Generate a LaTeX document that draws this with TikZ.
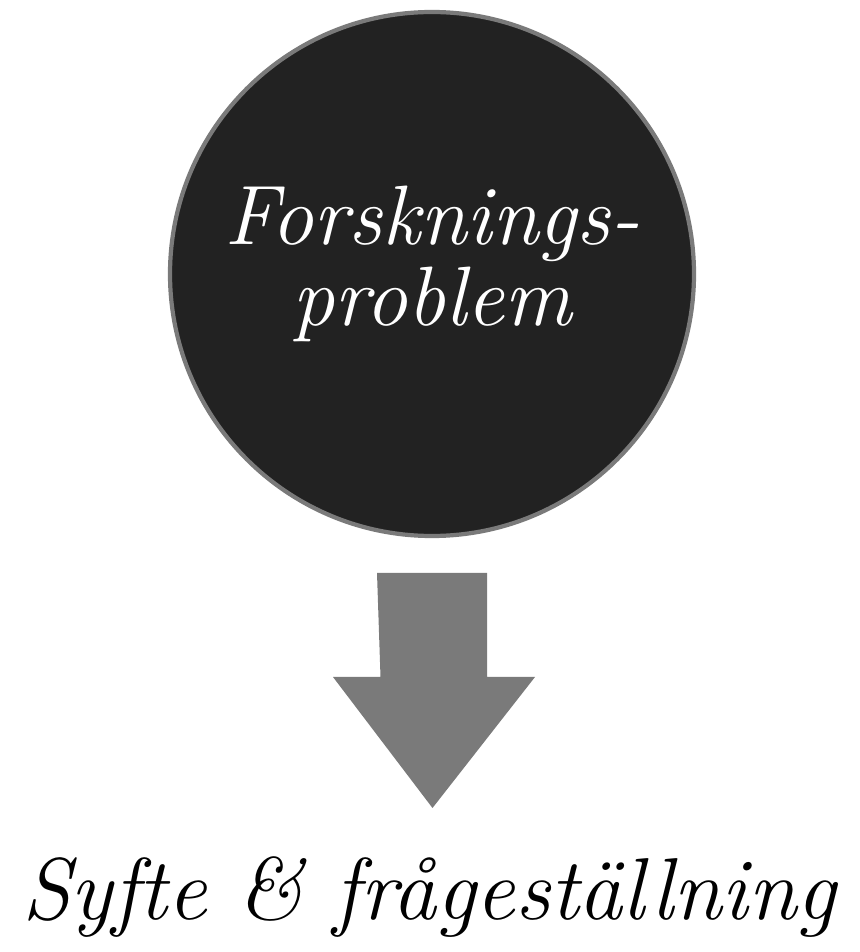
\documentclass[tikz,border=0pt]{standalone}
\usepackage{tikz}
\usetikzlibrary{positioning}

\definecolor{circleFill}{HTML}{222222}
\definecolor{circleRim}{HTML}{7A7A7A}
\definecolor{arrowGray}{HTML}{7A7A7A}

\begin{document}
\begin{tikzpicture}[
    font=\itshape\fontsize{24}{23}\selectfont,
    problemCircle/.style={circle, draw=circleRim, line width=1.2pt,
      fill=circleFill, minimum size=5.24cm, inner sep=0pt},
    problemText/.style={text=white, align=center, inner sep=0pt},
    blockArrow/.style={fill=arrowGray, draw=none},
    aimText/.style={anchor=base, inner sep=0pt, font=\itshape\fontsize{25}{30}\selectfont},
  ]

  \useasboundingbox (0,0) rectangle (8.59,9.52);

  % ---- research problem ------------------------------------------------
  \node[problemCircle] (problem) at (4.32,6.78) {};
  \node[problemText] (problemLabel) at ([yshift=0.1cm]problem.center)
        {Forsknings-\\problem};

  % ---- block arrow -----------------------------------------------------
  \coordinate (arrowTop) at (4.32,3.79);
  \coordinate (arrowTip) at (4.325,1.44);
  \fill[blockArrow] (arrowTop) ++(-0.55,0) -- ++(1.10,0) -- ++(0,-1.04)
        -- ++(0.48,0) -- (arrowTip) -- ++(-0.995,1.31) -- ++(0.475,0) -- cycle;

  % ---- aim and questions -----------------------------------------------
  \node[aimText] (aim) at (4.29,0.32) {Syfte \& frågeställning};

\end{tikzpicture}
\end{document}
